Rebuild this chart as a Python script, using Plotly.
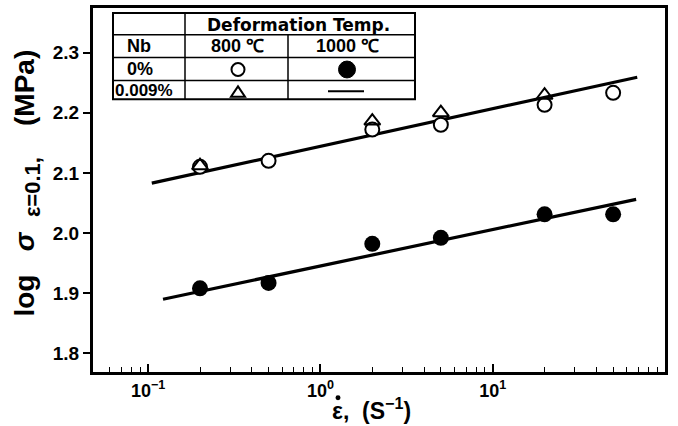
import plotly.graph_objects as go

# ---- data ----
strain_rate = [0.2, 0.5, 2, 5, 20, 50]
nb0_800 = [2.11, 2.12, 2.172, 2.18, 2.213, 2.233]          # open circles
nb009_800_x = [0.2, 2, 5, 20]
nb009_800 = [2.112, 2.186, 2.20, 2.229]                    # open triangles
nb0_1000 = [1.908, 1.917, 1.982, 1.992, 2.031, 2.031]      # filled circles
fit_upper_x = [0.105, 69]
fit_upper_y = [2.083, 2.259]
fit_lower_x = [0.122, 68]
fit_lower_y = [1.890, 2.056]

x_tickvals = [0.1, 1, 10, 100]
x_ticktext = ["10<sup>−1</sup>", "10<sup>0</sup>", "10<sup>1</sup>", "10<sup>2</sup>"]
x_minorvals = [0.06, 0.07, 0.08, 0.09,
               0.2, 0.3, 0.4, 0.5, 0.6, 0.7, 0.8, 0.9,
               2, 3, 4, 5, 6, 7, 8, 9,
               20, 30, 40, 50, 60, 70, 80, 90]
y_tickvals = [1.8, 1.9, 2.0, 2.1, 2.2, 2.3]
y_ticktext = ["1.8", "1.9", "2.0", "2.1", "2.2", "2.3"]

FONT = "Liberation Sans, Arial, sans-serif"
WIDE = "DejaVu Sans, Liberation Sans, sans-serif"

fig = go.Figure()
fig.add_trace(go.Scatter(x=fit_upper_x, y=fit_upper_y, mode="lines",
                         line=dict(color="black", width=3.2), showlegend=False))
fig.add_trace(go.Scatter(x=fit_lower_x, y=fit_lower_y, mode="lines",
                         line=dict(color="black", width=3.2), showlegend=False))
fig.add_trace(go.Scatter(x=strain_rate, y=nb0_800, mode="markers",
                         marker=dict(symbol="circle", size=14, color="white",
                                     line=dict(color="black", width=2)),
                         showlegend=False))
fig.add_trace(go.Scatter(x=nb009_800_x, y=nb009_800, mode="markers",
                         marker=dict(symbol="triangle-up-open", size=14, color="black",
                                     line=dict(color="black", width=2)),
                         showlegend=False))
fig.add_trace(go.Scatter(x=strain_rate, y=nb0_1000, mode="markers",
                         marker=dict(symbol="circle", size=16, color="black"),
                         showlegend=False))

# plot-area pixel geometry
L, R, T, B = 93, 665, 5, 372
W, H = 678, 426


def px(x):
    return (x - L) / (R - L)


def py(y):
    return (B - y) / (B - T)


shapes = []
# table outline
tx0, tx1, ty0, ty1 = 113, 415, 10, 97
c1, c2 = 185, 288
r1, r2, r3 = 32, 55, 78
line = dict(color="black", width=1.5)
shapes.append(dict(type="rect", xref="paper", yref="paper", x0=px(tx0), x1=px(tx1),
                   y0=py(ty1), y1=py(ty0), line=dict(color="black", width=2),
                   fillcolor="white", layer="above"))
for yy in (r1, r2, r3):
    shapes.append(dict(type="line", xref="paper", yref="paper", x0=px(tx0), x1=px(tx1),
                       y0=py(yy), y1=py(yy), line=line))
shapes.append(dict(type="line", xref="paper", yref="paper", x0=px(c1), x1=px(c1),
                   y0=py(ty0), y1=py(ty1), line=line))
shapes.append(dict(type="line", xref="paper", yref="paper", x0=px(c2), x1=px(c2),
                   y0=py(r1), y1=py(ty1), line=line))
# legend symbols in the table
shapes.append(dict(type="circle", xref="paper", yref="paper",
                   x0=px(238 - 6.5), x1=px(238 + 6.5), y0=py(67 + 6.5), y1=py(67 - 6.5),
                   line=dict(color="black", width=2), fillcolor="white", layer="above"))
shapes.append(dict(type="circle", xref="paper", yref="paper",
                   x0=px(347 - 8.5), x1=px(347 + 8.5), y0=py(67 + 8.5), y1=py(67 - 8.5),
                   line=dict(color="black", width=1), fillcolor="black", layer="above"))
tri = "M {a},{b} L {c},{d} L {e},{f} Z".format(
    a=px(238), b=py(84), c=px(231), d=py(96 - 1.5), e=px(245), f=py(96 - 1.5))
shapes.append(dict(type="path", xref="paper", yref="paper", path=tri,
                   line=dict(color="black", width=2), layer="above"))
shapes.append(dict(type="line", xref="paper", yref="paper", x0=px(328), x1=px(364),
                   y0=py(89), y1=py(89), line=dict(color="black", width=2), layer="above"))
# dot above epsilon in the x-axis title
shapes.append(dict(type="circle", xref="paper", yref="paper",
                   x0=px(335.5), x1=px(340.5), y0=py(400.5), y1=py(395.5),
                   line=dict(color="black", width=0), fillcolor="black", layer="above"))

ann = []


def cell(text, x, y, size=17, family=FONT):
    ann.append(dict(text=text, x=px(x), y=py(y), xref="paper", yref="paper",
                    showarrow=False, xanchor="center", yanchor="middle",
                    font=dict(family=family, size=size, color="black", weight="bold")))


cell("Deformation Temp.", 298, 22, size=17, family=WIDE)
cell("Nb", 139, 43, size=18)
cell("800 ℃", 237, 43, size=18)
cell("1000 ℃", 347, 43, size=18)
cell("0%", 140, 66, size=18)
cell("0.009%", 144, 88, size=17)

# axis titles
ann.append(dict(text="log   <i>σ</i>  <sub><span style='font-size:22px'>ε=0.1,</span></sub>    (MPa)",
                x=px(27), y=py(182),
                xref="paper", yref="paper", showarrow=False, textangle=-90,
                xanchor="center", yanchor="middle",
                font=dict(family=FONT, size=28, color="black", weight="bold")))
ann.append(dict(text="ε,  (S<sup>−1</sup>)", x=px(330), y=py(409),
                xref="paper", yref="paper", showarrow=False,
                xanchor="left", yanchor="middle",
                font=dict(family=FONT, size=23, color="black", weight="bold")))

fig.update_layout(
    width=W, height=H,
    margin=dict(l=L, r=W - R, t=T, b=H - B),
    paper_bgcolor="white", plot_bgcolor="white",
    shapes=shapes, annotations=ann,
    xaxis=dict(type="log", range=[-1.32, 2.0], tickvals=x_tickvals, ticktext=x_ticktext,
               ticks="inside", ticklen=8, tickwidth=1.5, tickcolor="black",
               minor=dict(ticks="inside", ticklen=5, tickwidth=1.2, tickcolor="black",
                          tickmode="array", tickvals=x_minorvals, showgrid=False),
               showline=True, linewidth=3, linecolor="black", mirror=True,
               showgrid=False, zeroline=False,
               tickfont=dict(family=FONT, size=18, color="black", weight="bold")),
    yaxis=dict(range=[1.769, 2.374], tickvals=y_tickvals, ticktext=y_ticktext,
               ticks="outside", ticklen=7, tickwidth=1.5, tickcolor="black",
               showline=True, linewidth=3, linecolor="black", mirror=True,
               showgrid=False, zeroline=False,
               tickfont=dict(family=FONT, size=19, color="black", weight="bold")),
)

fig.write_html("out.html", config={"displayModeBar": False},
               post_script="document.body.style.margin='0';document.body.style.padding='0';")
